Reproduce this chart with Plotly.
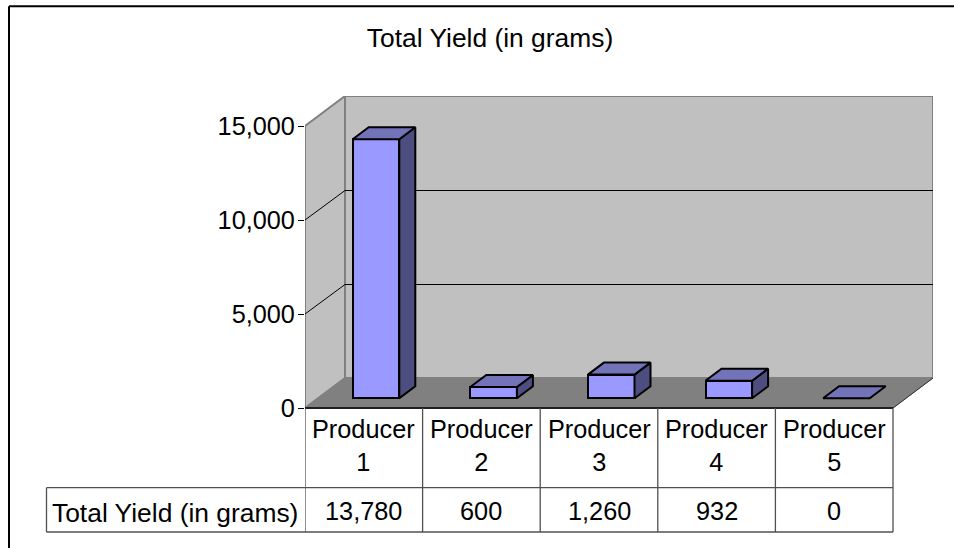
import plotly.graph_objects as go

# ---- data ----
series_name = "Total Yield (in grams)"
categories = ["Producer<br>1", "Producer<br>2", "Producer<br>3", "Producer<br>4", "Producer<br>5"]
values = [13780, 600, 1260, 932, 0]
value_labels = ["13,780", "600", "1,260", "932", "0"]
tick_values = [0, 5000, 10000, 15000]
tick_labels = ["0", "5,000", "10,000", "15,000"]

# ---- layout geometry ----
W, H = 954, 548
FONT = dict(family="Liberation Sans, Arial, sans-serif", size=25.3, color="#000000")
FONT_WIDE = dict(family="Liberation Sans, Arial, sans-serif", size=26.4, color="#000000")
CAT_PX = 117.6                 # pixels per category
VAL_PX = 94 / 5000             # pixels per unit of value
LEFT_PX, BASE_PX = 305, 408    # origin of the front plane
RIGHT_PX, TOP_PX = 933, 96     # back-wall corner
TOP_VALUE = 15000

def dx(px):
    return px / CAT_PX

def dy(px):
    return px / VAL_PX

WALL_DX, WALL_DY = dx(40), dy(30)
BAR_W = dx(46.6)
BAR_OX, BAR_OY = dx(12.2), dy(9.7)
SIDE_DX, SIDE_DY = dx(16), dy(12)
CRISP = dy(0.5)

def px_path(points):
    return "M " + " L ".join(f"{x},{y}" for x, y in points) + " Z"

def line(x0, y0, x1, y1, color, width, **kw):
    return dict(type="line", x0=x0, y0=y0, x1=x1, y1=y1, layer="below",
                line=dict(color=color, width=width), **kw)

n = len(categories)
shapes = []
WALL_GRAY, FLOOR_GRAY = "#C0C0C0", "#808080"
top_back = TOP_VALUE + WALL_DY

# back wall, side wall, floor
shapes.append(dict(type="path", layer="below", fillcolor=WALL_GRAY,
                   line=dict(color=FLOOR_GRAY, width=2),
                   path=px_path([(WALL_DX, WALL_DY), (WALL_DX, top_back),
                                 (n + WALL_DX, top_back), (n + WALL_DX, WALL_DY)])))
shapes.append(dict(type="path", layer="below", fillcolor=WALL_GRAY,
                   line=dict(color=FLOOR_GRAY, width=2),
                   path=px_path([(0, 0), (0, TOP_VALUE), (WALL_DX, top_back), (WALL_DX, WALL_DY)])))
# grid lines on both walls
for t in tick_values[1:-1]:
    shapes.append(line(0, t, WALL_DX, t + WALL_DY - CRISP, "#000000", 1))
    shapes.append(line(WALL_DX, t + WALL_DY - CRISP, n + WALL_DX, t + WALL_DY - CRISP, "#000000", 1))
shapes.append(dict(type="path", layer="below", fillcolor=FLOOR_GRAY,
                   line=dict(color=FLOOR_GRAY, width=1),
                   path=px_path([(0, 0), (WALL_DX, WALL_DY), (n + WALL_DX, WALL_DY), (n, 0)])))
shapes.append(line(n, 0, n + WALL_DX, WALL_DY, "#303030", 1))

# data table
ROW0, ROW1, ROW2 = 408, 487.7, 532
TABLE_LEFT = 46.5
TABLE_COLOR = "#505050"
paper_y = lambda py: 1 - py / H
# horizontal rules
shapes.append(dict(type="line", xref="x", yref="paper", x0=0, x1=n, y0=paper_y(ROW0), y1=paper_y(ROW0),
                   line=dict(color="#202020", width=2)))
for row in (ROW1, ROW2):
    shapes.append(dict(type="line", xref="paper", yref="paper", x0=TABLE_LEFT / W, x1=(LEFT_PX + n * CAT_PX) / W,
                       y0=paper_y(row), y1=paper_y(row), line=dict(color=TABLE_COLOR, width=1.3)))
# vertical rules
for i in range(n + 1):
    shapes.append(dict(type="line", xref="x", yref="paper", x0=i, x1=i, y0=paper_y(ROW0), y1=paper_y(ROW2),
                       line=dict(color=TABLE_COLOR, width=1.3)))
shapes.append(dict(type="line", xref="paper", yref="paper", x0=TABLE_LEFT / W, x1=TABLE_LEFT / W,
                   y0=paper_y(ROW1), y1=paper_y(ROW2), line=dict(color=TABLE_COLOR, width=1.3)))
# chart-area frame: only top and left edges are visible
shapes.append(dict(type="line", xref="paper", yref="paper", x0=9 / W, x1=1, y0=paper_y(6.3), y1=paper_y(6.3),
                   line=dict(color="#000000", width=2)))
shapes.append(dict(type="line", xref="paper", yref="paper", x0=9 / W, x1=9 / W, y0=0, y1=paper_y(6.3),
                   line=dict(color="#000000", width=2)))

annotations = []
for i in range(n):
    annotations.append(dict(xref="x", yref="paper", x=i + 0.5, y=paper_y(445.5), text=categories[i],
                            showarrow=False, xanchor="center", yanchor="middle", font=FONT))
    annotations.append(dict(xref="x", yref="paper", x=i + 0.5, y=paper_y(510.5), text=value_labels[i],
                            showarrow=False, xanchor="center", yanchor="middle", font=FONT))
annotations.append(dict(xref="paper", yref="paper", x=175 / W, y=paper_y(513), text=series_name,
                        showarrow=False, xanchor="center", yanchor="middle", font=FONT_WIDE))

fig = go.Figure()

# front faces of the bars
fig.add_trace(go.Bar(
    x=[i + 0.5 + BAR_OX for i in range(n)],
    y=values,
    base=BAR_OY,
    width=BAR_W,
    marker=dict(color="#9999FF", line=dict(color="#000000", width=2)),
    showlegend=False, hoverinfo="skip",
))

# top and side faces of the bars
for i, v in enumerate(values):
    x0 = i + 0.5 + BAR_OX - BAR_W / 2
    x1 = x0 + BAR_W
    y0 = BAR_OY
    y1 = BAR_OY + v
    if v > 0:
        fig.add_trace(go.Scatter(
            x=[x1, x1 + SIDE_DX, x1 + SIDE_DX, x1, x1],
            y=[y0, y0 + SIDE_DY, y1 + SIDE_DY, y1, y0],
            mode="lines", fill="toself", fillcolor="#4D4D80",
            line=dict(color="#000000", width=2), showlegend=False, hoverinfo="skip"))
    fig.add_trace(go.Scatter(
        x=[x0, x1, x1 + SIDE_DX, x0 + SIDE_DX, x0],
        y=[y1, y1, y1 + SIDE_DY, y1 + SIDE_DY, y1],
        mode="lines", fill="toself", fillcolor="#7373BA",
        line=dict(color="#000000", width=2), showlegend=False, hoverinfo="skip"))

fig.update_layout(
    width=W, height=H,
    margin=dict(l=0, r=0, t=0, b=0),
    autosize=False,
    paper_bgcolor="#FFFFFF", plot_bgcolor="rgba(0,0,0,0)",
    font=FONT,
    showlegend=False,
    bargap=0,
    title=dict(text=series_name, x=490 / W, xanchor="center", xref="paper",
               y=1 - 38 / H, yanchor="middle", yref="paper", font=FONT_WIDE),
    xaxis=dict(domain=[LEFT_PX / W, RIGHT_PX / W],
               range=[0, (RIGHT_PX - LEFT_PX) / CAT_PX],
               visible=False, fixedrange=True, automargin=False),
    yaxis=dict(domain=[1 - BASE_PX / H, 1 - TOP_PX / H],
               range=[0, (BASE_PX - TOP_PX) / VAL_PX],
               tickmode="array", tickvals=tick_values, ticktext=tick_labels,
               ticks="outside", ticklen=6, tickwidth=1, tickcolor="#000000",
               ticklabelstandoff=-2,
               showgrid=False, zeroline=False, showline=False, automargin=False,
               tickfont=FONT, fixedrange=True),
    shapes=shapes,
    annotations=annotations,
)

fig.write_html("out.html", config=dict(displayModeBar=False),
               post_script="document.body.style.margin='0';document.documentElement.style.overflow='hidden';")
